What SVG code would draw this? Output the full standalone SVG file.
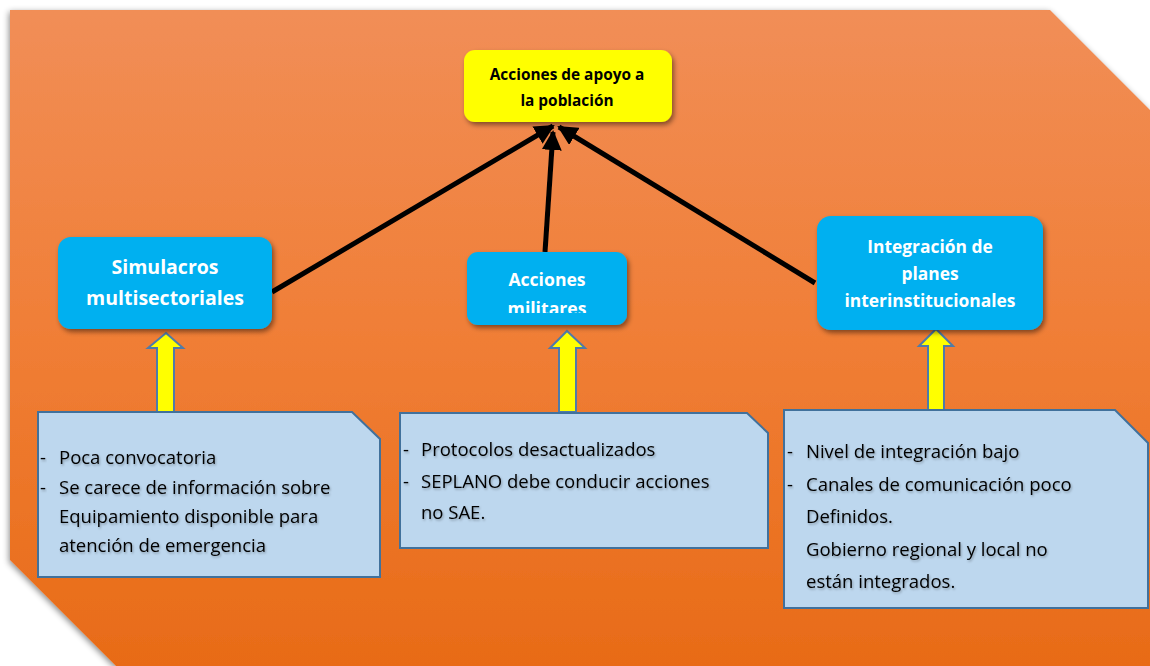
<svg xmlns="http://www.w3.org/2000/svg" width="1150" height="666" viewBox="0 0 1150 666">
<defs>
<linearGradient id="bg" x1="0" y1="0" x2="0" y2="1">
<stop offset="0" stop-color="#F18E57"/>
<stop offset="0.5" stop-color="#F07E36"/>
<stop offset="1" stop-color="#E86B17"/>
</linearGradient>
<filter id="bgsh" x="-5%" y="-5%" width="110%" height="110%">
<feDropShadow dx="-1" dy="2" stdDeviation="3" flood-color="#000" flood-opacity="0.45"/>
</filter>
<filter id="sh" x="-10%" y="-10%" width="130%" height="140%">
<feDropShadow dx="2" dy="3" stdDeviation="2.5" flood-color="#000" flood-opacity="0.45"/>
</filter>
<filter id="tsh" x="-5%" y="-20%" width="110%" height="150%">
<feDropShadow dx="1" dy="1.5" stdDeviation="1" flood-color="#000" flood-opacity="0.3"/>
</filter>
<marker id="ah" viewBox="0 0 10 10" refX="9" refY="5" markerWidth="4" markerHeight="4" orient="auto" markerUnits="strokeWidth">
<path d="M0,0 L10,5 L0,10 z" fill="#000"/>
</marker>
<clipPath id="milclip"><rect x="467" y="252" width="160" height="61"/></clipPath>
</defs>
<style>
.blue{fill:#00B0F0;filter:url(#sh)}
.wl{font-family:"Open Sans","Liberation Sans",sans-serif;font-weight:bold;font-size:19.5px;fill:#fff;text-anchor:middle}
.wm{font-size:17.6px}
.wi{font-size:17.4px}
.yl{font-family:"Open Sans","Liberation Sans",sans-serif;font-weight:bold;font-size:15.4px;fill:#000;text-anchor:middle}
.note{fill:#BDD7EE;stroke:#41719C;stroke-width:2}
.nt{font-family:"Open Sans","Liberation Sans",sans-serif;font-size:18.5px;fill:#000;filter:url(#tsh)}
.ya{fill:#FFFF00;stroke:#4F7BA8;stroke-width:2;stroke-linejoin:miter}
.conn{stroke:#000;stroke-width:5;fill:none;marker-end:url(#ah)}
</style>
<polygon points="10,10 1050,10 1150,110 1150,666 116,666 10,560" fill="url(#bg)" filter="url(#bgsh)"/>

<g id="connectors">
<line class="conn" x1="272" y1="292" x2="553" y2="126"/>
<line class="conn" x1="545" y1="252" x2="553" y2="132"/>
<line class="conn" x1="815" y1="283" x2="559" y2="127"/>
<polygon class="ya" points="166,333 183,348 174,348 174,412 157,412 157,348 148,348"/>
<polygon class="ya" points="567,331 585,348 576,348 576,412 559,412 559,348 550,348"/>
<polygon class="ya" points="936,329 953,346 944,346 944,410 928,410 928,346 919,346"/>
</g>

<g id="top">
<rect x="464" y="50" width="208" height="72" rx="11" fill="#FFFF00" filter="url(#sh)"/>
<text class="yl" x="567" y="80">Acciones de apoyo a</text>
<text class="yl" x="567" y="106">la población</text>
</g>

<g id="simulacros">
<rect class="blue" x="58" y="237" width="214" height="92" rx="13"/>
<text class="wl" x="165" y="274">Simulacros</text>
<text class="wl" x="165" y="305">multisectoriales</text>
</g>

<g id="militares">
<rect class="blue" x="467" y="252" width="160" height="73" rx="11"/>
<g clip-path="url(#milclip)">
<text class="wl wm" x="547" y="286">Acciones</text>
<text class="wl wm" x="547" y="315">militares</text>
</g>
</g>

<g id="integracion">
<rect class="blue" x="817" y="216" width="226" height="114" rx="14"/>
<text class="wl wi" x="930" y="253">Integración de</text>
<text class="wl wi" x="930" y="280">planes</text>
<text class="wl wi" x="930" y="307">interinstitucionales</text>
</g>

<g id="note1">
<polygon class="note" points="38,412 352,412 380,439 380,577 38,577"/>
<text class="nt" x="40" y="464">-</text>
<text class="nt" x="59" y="464">Poca convocatoria</text>
<text class="nt" x="40" y="494">-</text>
<text class="nt" x="59" y="494">Se carece de información sobre</text>
<text class="nt" x="59" y="523">Equipamiento disponible para</text>
<text class="nt" x="59" y="552">atención de emergencia</text>
</g>

<g id="note2">
<polygon class="note" points="400,413 747,413 768,433 768,548 400,548"/>
<text class="nt" x="403" y="456">-</text>
<text class="nt" x="421" y="456">Protocolos desactualizados</text>
<text class="nt" x="403" y="488">-</text>
<text class="nt" x="421" y="488">SEPLANO debe conducir acciones</text>
<text class="nt" x="421" y="519">no SAE.</text>
</g>

<g id="note3">
<polygon class="note" points="784,410 1115,410 1148,443 1148,608 784,608"/>
<text class="nt" x="787" y="458">-</text>
<text class="nt" x="806" y="458">Nivel de integración bajo</text>
<text class="nt" x="787" y="491">-</text>
<text class="nt" x="806" y="491">Canales de comunicación poco</text>
<text class="nt" x="806" y="523">Definidos.</text>
<text class="nt" x="806" y="556">Gobierno regional y local no</text>
<text class="nt" x="806" y="588">están integrados.</text>
</g>
</svg>
